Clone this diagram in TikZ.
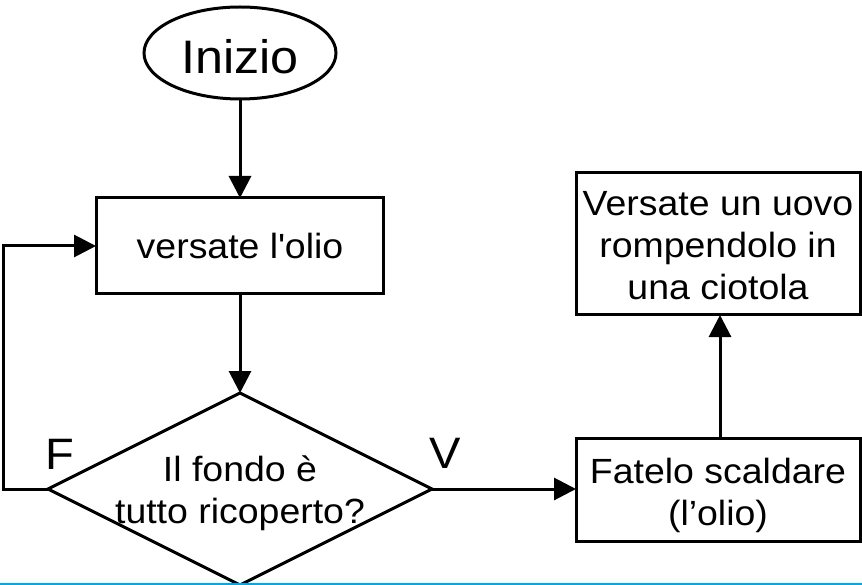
\documentclass[tikz,border=0pt]{standalone}
\usepackage{fontspec}
\setmainfont{Liberation Sans}[FakeStretch=1.07]
\usetikzlibrary{arrows.meta,shapes.geometric}
\definecolor{edgecyan}{RGB}{0,170,228}
\newcommand\bodyfont{\fontsize{35}{42}\selectfont}
\newcommand\bigfont{\fontsize{47}{56}\selectfont}
\newcommand\labfont{\fontsize{44}{52}\selectfont}
\tikzset{
  shapeline/.style={draw=black, line width=3pt, inner sep=0pt, outer sep=0pt},
  stepbox/.style={shapeline, rectangle},
  termnode/.style={shapeline, ellipse},
  decnode/.style={shapeline, diamond},
  txt/.style={inner sep=0pt, align=center, font=\bodyfont},
  flow/.style={line width=3pt, -{Triangle[length=22pt,width=22pt]}},
}
\begin{document}
\begin{tikzpicture}[x=1pt,y=-1pt]
\useasboundingbox (0,0) rectangle (862,585);
% shapes
\node[termnode, minimum width=192pt, minimum height=92pt] (start) at (240,53) {};
\node[stepbox, minimum width=287pt, minimum height=96pt] (pour) at (239.5,246) {};
\node[decnode, minimum width=384pt, minimum height=192pt] (dec) at (240,489) {};
\node[stepbox, minimum width=284pt, minimum height=103pt] (heat) at (718,489.5) {};
\node[stepbox, minimum width=284pt, minimum height=142pt] (egg) at (718,244) {};
% texts
\node[inner sep=0pt, font=\bigfont] (starttxt) at (240,57) {Inizio};
\node[txt] (pourtxt) at (240,246) {versate l\textquotesingle olio};
\node[txt] (dectxt) at (240,493.5) {Il fondo è\\tutto ricoperto?};
\node[txt] (heattxt) at (718,495) {Fatelo scaldare\\(l’olio)};
\node[txt] (eggtxt) at (718,245.5) {Versate un uovo\\rompendolo in\\una ciotola};
\node[inner sep=0pt, font=\labfont] (flab) at (59.5,454) {F};
\node[inner sep=0pt, font=\labfont] (vlab) at (445.5,453.5) {V};
% connectors
\draw[flow] (start.south) -- (start.south |- pour.north);
\draw[flow] (pour.south -| dec.north) -- (dec.north);
\draw[flow] (dec.west) -- ++(-45,0) |- (pour.west);
\draw[flow] (dec.east) -- (heat.west |- dec.east);
\draw[flow] (heat.north -| 720,0) -- (egg.south -| 720,0);
% bottom edge line
\coordinate (el) at (0,584.2);
\coordinate (er) at (862,584.2);
\draw[edgecyan, line width=1.6pt] (el) -- (er);
\end{tikzpicture}
\end{document}
